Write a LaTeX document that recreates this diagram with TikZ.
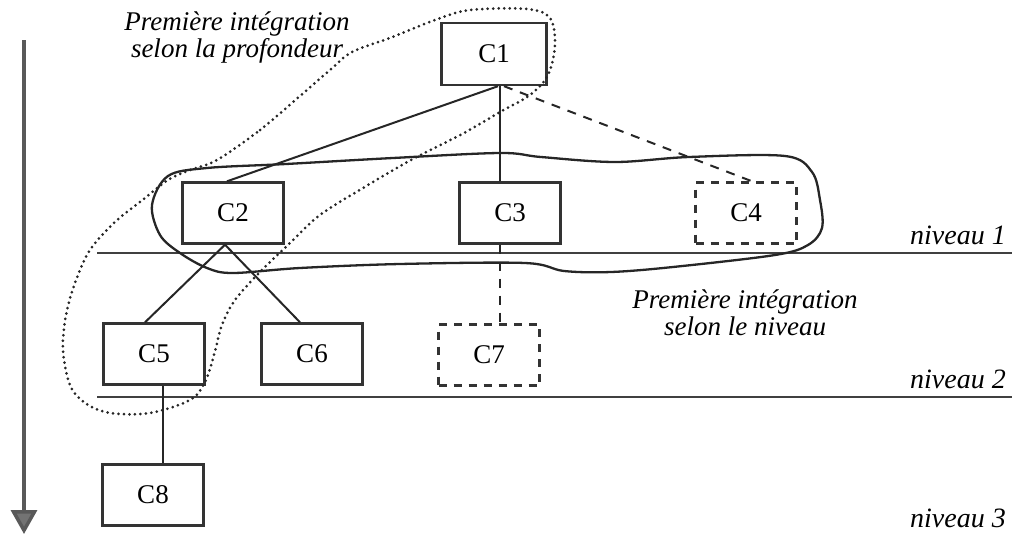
\documentclass[tikz,border=0pt]{standalone}
\usepackage{fontspec}
\setmainfont{Liberation Serif}
\usetikzlibrary{calc,arrows.meta}
\begin{document}
\begin{tikzpicture}[x=1pt,y=-1pt,
  box/.style={draw=black!80, line width=2.4pt, minimum width=101pt, minimum height=61pt, inner sep=0pt, font=\fontsize{27}{30}\selectfont},
  dbox/.style={box, dash pattern=on 8pt off 7pt},
  conn/.style={draw=black!85, line width=2pt},
  dconn/.style={conn, dash pattern=on 9pt off 8pt},
  lvl/.style={font=\itshape\fontsize{28}{28}\selectfont, inner sep=0pt},
  lbl/.style={font=\itshape\fontsize{27}{27}\selectfont, inner sep=0pt, align=center},
  levelline/.style={draw=black!75, line width=1.8pt},
  loopsolid/.style={draw=black!85, line width=2.3pt},
  loopdot/.style={draw=black!85, line width=3pt, line cap=round, dash pattern=on 0pt off 5.5pt},
  axis/.style={draw=black!65, line width=3.5pt, -{Triangle[width=26pt,length=24pt,fill=black!55]}}
]
\useasboundingbox (0,0) rectangle (1012,538);

% level lines
\coordinate (L1a) at (97,253); \coordinate (L1b) at (1012,253);
\coordinate (L2a) at (97,397); \coordinate (L2b) at (1012,397);
\draw[levelline] (L1a) -- (L1b);
\draw[levelline] (L2a) -- (L2b);

% boxes
\node[box]  (C1) at (494,54)  [minimum width=105pt, minimum height=62pt] {C1};
\node[box]  (C2) at (233,213) {C2};
\node[box]  (C3) at (510,213) {C3};
\node[dbox] (C4) at (746,213) {C4};
\node[box]  (C5) at (154,354) {C5};
\node[box]  (C6) at (312,354) {C6};
\node[dbox] (C7) at (489,355) {C7};
\node[box]  (C8) at (153,495) {C8};

% connectors
\coordinate (v) at ($(C1.south)+(6,0)$);
\draw[conn] ($(C1.south)+(4,0)$) -- ($(C2.north)+(-6,0)$);
\draw[conn] (v) -- (v |- C3.north);
\draw[dconn] ($(C1.south)+(10,0)$) -- ($(C4.north)+(6,0)$);
\draw[conn] ($(C2.south)+(-8,0)$) -- ($(C5.north)+(-9,0)$);
\draw[conn] ($(C2.south)+(-8,0)$) -- ($(C6.north)+(-12,0)$);
\draw[dconn] (v |- C3.south) -- (v |- C7.north);
\coordinate (w) at ($(C5.south)+(9,0)$);
\draw[conn] (w) -- (w |- C8.north);

% level labels
\node[lvl, anchor=base east] (n1) at (1006,244) {niveau 1};
\node[lvl, anchor=base east] (n2) at (1006,388) {niveau 2};
\node[lvl, anchor=base east] (n3) at (1006,527) {niveau 3};

% annotation texts
\node[lbl] (tdepth) at (237,37) {Première intégration\\selon la profondeur};
\node[lbl] (tlevel) at (745,313) {Première intégration\\selon le niveau};

% solid loop (integration by level)
\draw[loopsolid] plot[smooth cycle, tension=0.55] coordinates {
  (168,176) (207,168) (286,164) (393,158) (500,153) (541,157) (615,162)
  (689,157) (785,156) (812,172) (820,200) (822,228) (808,245) (775,255)
  (673,267) (611,272) (564,271) (525,263) (400,264) (300,268) (233,273)
  (207,268) (180,253) (160,235) (152,205)};

% dotted loop (integration by depth)
\draw[loopdot] plot[smooth cycle, tension=0.55] coordinates {
  (217,160) (260,130) (300,96) (330,70) (352,52) (390,38) (435,20)
  (470,10) (527,9) (550,18) (555,45) (548,75) (530,95) (500,112)
  (464,133) (411,160) (368,185) (320,215) (290,243) (260,272) (235,300)
  (222,325) (214,355) (205,382) (190,400) (150,413) (110,413) (85,403)
  (70,385) (63,350) (66,315) (75,283) (90,250) (115,222) (145,198)
  (168,180) (190,170)};

% vertical axis arrow
\coordinate (atop) at (24,40);
\coordinate (abot) at (24,534);
\draw[axis] (atop) -- (abot);
\end{tikzpicture}
\end{document}
